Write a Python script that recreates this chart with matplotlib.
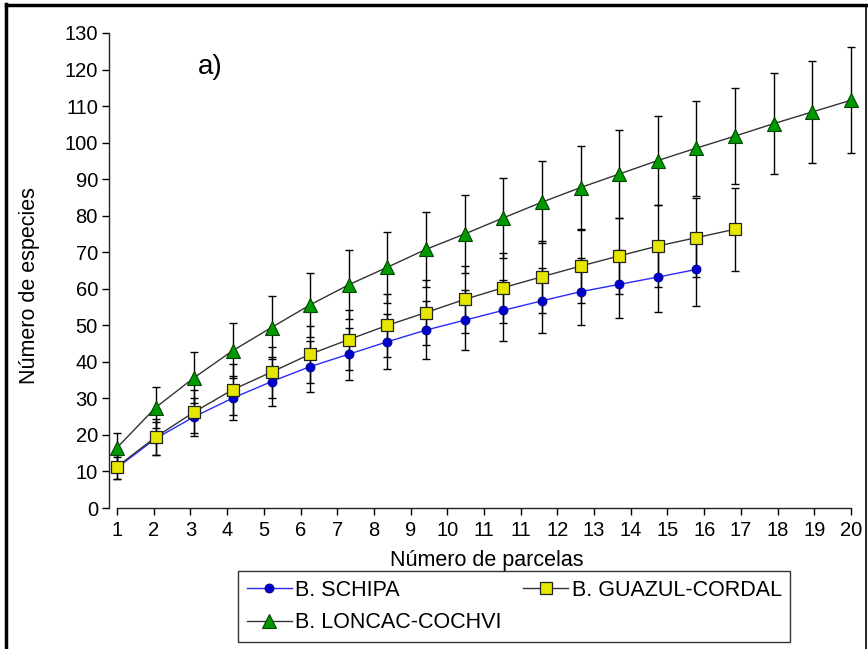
import matplotlib
matplotlib.use("Agg")
import matplotlib.pyplot as plt
from matplotlib.lines import Line2D
import numpy as np

plt.rcParams['font.family'] = ['Liberation Sans', 'DejaVu Sans']

# ---- data ----
schipa = [11.0, 19.0, 25.0, 30.1, 34.6, 38.7, 42.1, 45.5, 48.7, 51.4, 54.1,
          56.7, 59.2, 61.2, 63.2, 65.3]
schipa_err = [3.0, 4.5, 5.2, 6.0, 6.7, 7.0, 7.1, 7.5, 8.0, 8.2, 8.4, 8.9,
              9.2, 9.3, 9.5, 9.9]
guazul = [11.3, 19.4, 26.3, 32.4, 37.2, 42.1, 46.1, 50.0, 53.5, 57.1, 60.3,
          63.3, 66.2, 69.0, 71.7, 74.0, 76.3]
guazul_err = [3.3, 5.0, 5.9, 6.9, 7.0, 7.8, 8.2, 8.6, 8.9, 9.2, 9.6, 9.8,
              10.2, 10.5, 11.1, 10.9, 11.4]
loncac = [16.5, 27.5, 35.7, 43.1, 49.4, 55.6, 61.1, 65.9, 70.8, 75.0, 79.4,
          83.7, 87.7, 91.4, 95.1, 98.5, 101.8, 105.2, 108.4, 111.6]
loncac_err = [4.1, 5.6, 7.0, 7.5, 8.5, 8.7, 9.5, 9.7, 10.2, 10.7, 11.0, 11.2,
              11.5, 12.0, 12.2, 13.0, 13.2, 13.8, 14.0, 14.5]
x_tick_labels = ["1", "2", "3", "4", "5", "6", "7", "8", "9", "10", "11", "11",
                 "12", "13", "14", "15", "16", "17", "18", "19", "20"]
y_ticks = list(range(0, 131, 10))
series_names = ["B. SCHIPA", "B. GUAZUL-CORDAL", "B. LONCAC-COCHVI"]

fig = plt.figure(figsize=(8.68, 6.49), dpi=100)
W, H = 868, 649
ax = fig.add_axes([109 / W, 1 - 508 / H, 751 / W, 475 / H])

def xs(vals):
    return np.arange(1, len(vals) + 1)

ebkw = dict(ecolor='black', elinewidth=1.0, capsize=3.2, capthick=1.0)

# error bars
ax.errorbar(xs(loncac), loncac, yerr=loncac_err, fmt='none', zorder=2, **ebkw)
ax.errorbar(xs(guazul), guazul, yerr=guazul_err, fmt='none', zorder=2, **ebkw)
ax.errorbar(xs(schipa), schipa, yerr=schipa_err, fmt='none', zorder=2, **ebkw)

# lines + markers
l3, = ax.plot(xs(loncac), loncac, color='#333333', lw=1.0, marker='^',
              markersize=10, markerfacecolor='#009900', markeredgecolor='#004400',
              markeredgewidth=0.8, zorder=3, label=series_names[2])
l1, = ax.plot(xs(schipa), schipa, color='#2a2aff', lw=1.0, marker='o',
              markersize=6.5, markerfacecolor='#0000cc', markeredgecolor='#000088',
              markeredgewidth=0.6, zorder=4, label=series_names[0])
l2, = ax.plot(xs(guazul), guazul, color='#333333', lw=1.0, marker='s',
              markersize=9, markerfacecolor='#E6E600', markeredgecolor='#222222',
              markeredgewidth=0.9, zorder=5, label=series_names[1])

ax.set_xlim(1 - 8 / 38.63, 20 + 9 / 38.63)
ax.set_ylim(0, 130)

for s in ['top', 'right']:
    ax.spines[s].set_visible(False)
ax.spines['bottom'].set_bounds(1, 20)
ax.spines['left'].set_linewidth(1.0)
ax.spines['bottom'].set_linewidth(1.0)
ax.spines['left'].set_color('#222222')
ax.spines['bottom'].set_color('#222222')

ax.set_xticks(np.linspace(1, 20, 21))
ax.set_xticklabels(x_tick_labels)
ax.set_yticks(y_ticks)
ax.tick_params(axis='x', direction='out', length=5, width=1, pad=4, labelsize=14.5)
ax.tick_params(axis='y', direction='out', length=5, width=1, pad=3, labelsize=14.5)

ax.set_xlabel("Número de parcelas", fontsize=15.5)
ax.xaxis.set_label_coords((487 - 109) / 751, (508 - 550) / 475)
ax.set_ylabel("Número de especies", fontsize=15.5)
ax.yaxis.set_label_coords((40 - 109) / 751, (508 - 286) / 475)

ax.text((210 - 109) / 751, (508 - 67) / 475, "a)", transform=ax.transAxes,
        fontsize=20, ha='center', va='center')

leg = fig.legend(handles=[l1, l3, l2], labels=[series_names[0], series_names[2], series_names[1]],
                 ncol=2, loc='upper left', bbox_to_anchor=(238 / W, 1 - 571 / H),
                 frameon=True, fancybox=False, shadow=False, fontsize=15.5,
                 handlelength=2.1, handletextpad=0.15, columnspacing=1.0,
                 labelspacing=0.55, borderpad=0.4, borderaxespad=0)
leg.get_frame().set_edgecolor('black')
leg.get_frame().set_linewidth(1.0)

# outer frame of the figure
fig.add_artist(Line2D([6 / W, 6 / W], [0, 1 - 4 / H], transform=fig.transFigure,
                      color='black', lw=2.5))
fig.add_artist(Line2D([6 / W, 866 / W], [1 - 5 / H, 1 - 5 / H], transform=fig.transFigure,
                      color='black', lw=2.5))
fig.add_artist(Line2D([866 / W, 866 / W], [0, 1 - 5 / H], transform=fig.transFigure,
                      color='black', lw=1.2))

fig.savefig("out.png", dpi=100)
